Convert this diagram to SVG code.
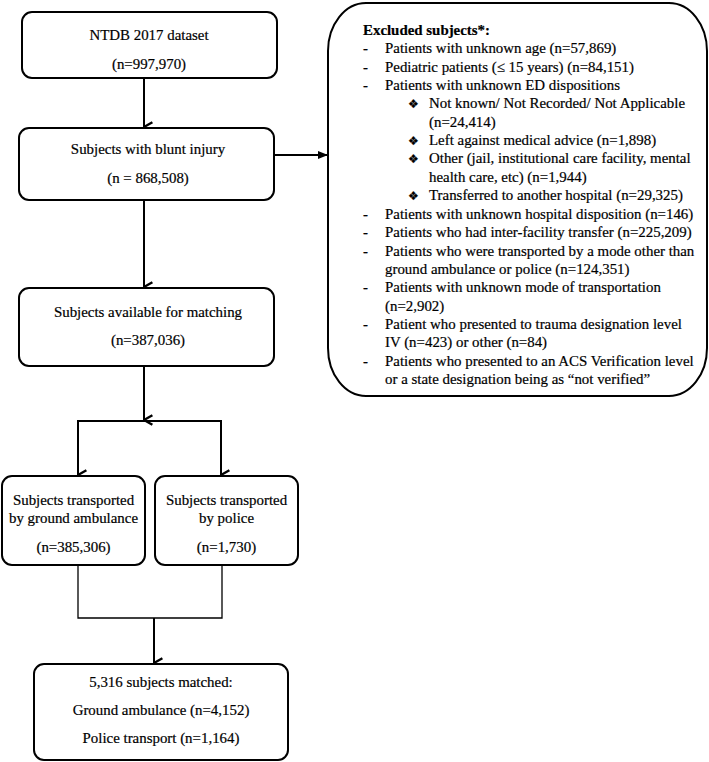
<svg xmlns="http://www.w3.org/2000/svg" width="709" height="762" viewBox="0 0 709 762">
<defs>
<style>
text{font-family:"Liberation Serif","Times New Roman",serif;font-size:14.9px;fill:#000;stroke:#000;stroke-width:0.2}
.c{text-anchor:middle}
.b{font-weight:bold}
.box{fill:#fff;stroke:#000;stroke-width:2}
.ln{fill:none;stroke:#000;stroke-width:2}
.thin{fill:none;stroke:#000;stroke-width:1.3}
.dia{font-family:"DejaVu Sans",sans-serif;font-size:12px}
</style>
<marker id="v" markerWidth="12" markerHeight="12" refX="5" refY="9" orient="auto" markerUnits="userSpaceOnUse" viewBox="0 0 10 10">
<path d="M1,2 L5,9 L9,2" fill="none" stroke="#000" stroke-width="2"/>
</marker>
<marker id="t" markerWidth="10" markerHeight="10" refX="10" refY="5" orient="auto" markerUnits="userSpaceOnUse" viewBox="0 0 10 10">
<path d="M0,1 L10,5 L0,9 Z" fill="#000"/>
</marker>
</defs>
<rect width="709" height="762" fill="#fff"/>
<g id="connectors">
<line class="ln" x1="144" y1="78" x2="144" y2="127" marker-end="url(#v)"/>
<line class="ln" x1="274" y1="155" x2="328" y2="155" marker-end="url(#t)"/>
<line class="ln" x1="144" y1="200" x2="144" y2="287" marker-end="url(#v)"/>
<line class="ln" x1="144" y1="366" x2="144" y2="420" marker-end="url(#v)"/>
<polyline class="ln" points="78,470 78,421 221,421 221,470"/>
<line class="ln" x1="78" y1="421" x2="78" y2="475" marker-end="url(#v)"/>
<line class="ln" x1="221" y1="421" x2="221" y2="475" marker-end="url(#v)"/>
<polyline class="thin" points="78,565 78,618 222,618 222,565"/>
<line class="ln" x1="154" y1="618" x2="154" y2="663" marker-end="url(#v)"/>
</g>
<g id="n1">
<rect class="box" x="22" y="12" width="255" height="66" rx="10"/>
<text class="c" x="149" y="40">NTDB 2017 dataset</text>
<text class="c" x="149" y="69">(n=997,970)</text>
</g>
<g id="n2">
<rect class="box" x="19" y="128" width="255" height="72" rx="10"/>
<text class="c" x="148" y="154">Subjects with blunt injury</text>
<text class="c" x="148" y="183">(n = 868,508)</text>
</g>
<g id="n3">
<rect class="box" x="19" y="288" width="255" height="78" rx="10"/>
<text class="c" x="148" y="317">Subjects available for matching</text>
<text class="c" x="148" y="345">(n=387,036)</text>
</g>
<g id="n4">
<rect class="box" x="2" y="476" width="143" height="89" rx="10"/>
<text class="c" x="73.5" y="505">Subjects transported</text>
<text class="c" x="73.5" y="523">by ground ambulance</text>
<text class="c" x="73.5" y="552">(n=385,306)</text>
</g>
<g id="n5">
<rect class="box" x="155" y="476" width="143" height="89" rx="10"/>
<text class="c" x="226.5" y="505">Subjects transported</text>
<text class="c" x="226.5" y="523">by police</text>
<text class="c" x="226.5" y="552">(n=1,730)</text>
</g>
<g id="n6">
<rect class="box" x="34" y="664" width="254" height="96" rx="10"/>
<text class="c" x="161" y="687">5,316 subjects matched:</text>
<text class="c" x="161" y="715">Ground ambulance (n=4,152)</text>
<text class="c" x="161" y="743">Police transport (n=1,164)</text>
</g>
<g id="excluded">
<rect class="box" x="328" y="3" width="379" height="393" rx="38" ry="48"/>
<text class="b" x="363" y="35">Excluded subjects*:</text>
<g>
<text x="363" y="53">-</text><text x="385" y="53">Patients with unknown age (n=57,869)</text>
<text x="363" y="72">-</text><text x="385" y="72">Pediatric patients (≤ 15 years) (n=84,151)</text>
<text x="363" y="90">-</text><text x="385" y="90">Patients with unknown ED dispositions</text>
<text class="dia" x="408" y="108">❖</text><text x="429" y="108">Not known/ Not Recorded/ Not Applicable</text>
<text x="429" y="127">(n=24,414)</text>
<text class="dia" x="408" y="145">❖</text><text x="429" y="145">Left against medical advice (n=1,898)</text>
<text class="dia" x="408" y="163">❖</text><text x="429" y="163">Other (jail, institutional care facility, mental</text>
<text x="429" y="182">health care, etc) (n=1,944)</text>
<text class="dia" x="408" y="200">❖</text><text x="429" y="200">Transferred to another hospital (n=29,325)</text>
<text x="363" y="219">-</text><text x="385" y="219">Patients with unknown hospital disposition (n=146)</text>
<text x="363" y="237">-</text><text x="385" y="237">Patients who had inter-facility transfer (n=225,209)</text>
<text x="363" y="256">-</text><text x="385" y="256">Patients who were transported by a mode other than</text>
<text x="385" y="274">ground ambulance or police (n=124,351)</text>
<text x="363" y="292">-</text><text x="385" y="292">Patients with unknown mode of transportation</text>
<text x="385" y="311">(n=2,902)</text>
<text x="363" y="329">-</text><text x="385" y="329">Patient who presented to trauma designation level</text>
<text x="385" y="347">IV (n=423) or other (n=84)</text>
<text x="363" y="366">-</text><text x="385" y="366">Patients who presented to an ACS Verification level</text>
<text x="385" y="384">or a state designation being as “not verified”</text>
</g>
</g>
</svg>
